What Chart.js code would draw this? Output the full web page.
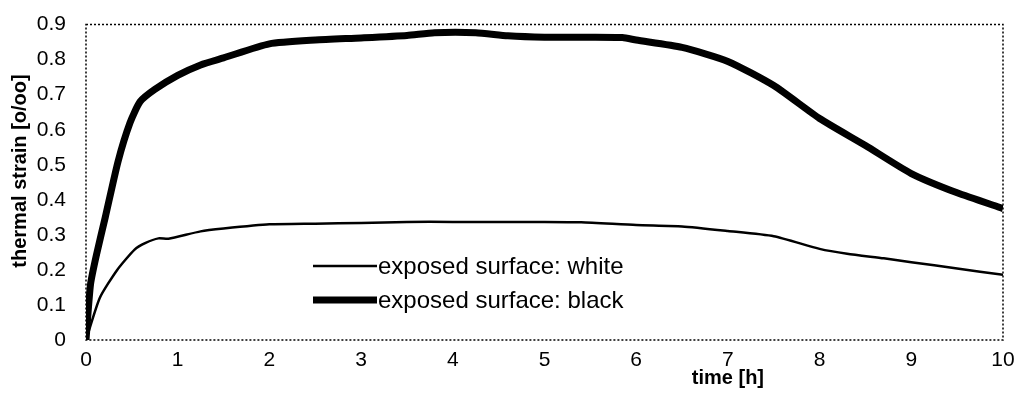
<!DOCTYPE html>
<html>
<head>
<meta charset="utf-8">
<script src="https://cdn.jsdelivr.net/npm/chart.js@4"></script>
<style>
  html, body { margin: 0; padding: 0; background: #fff; }
  #wrap { width: 1024px; height: 400px; }
</style>
</head>
<body>
<div id="wrap"><canvas id="chart1" width="1024" height="400"></canvas></div>
<script>
var FONT = '"Liberation Sans", Arial, Helvetica, sans-serif';

// time [h] and thermal strain [o/oo]
var timeWhite = [0, 0.15, 0.34, 0.53, 0.65, 0.79, 0.9, 1.25, 1.5, 2.0, 2.5, 3.0, 3.5, 4.0, 5.0, 5.4, 6.0, 6.5, 7.0, 7.5, 8.0, 8.3, 8.7, 9.0, 9.5, 10];
var strainWhite = [0, 0.12, 0.2, 0.258, 0.277, 0.29, 0.289, 0.31, 0.318, 0.33, 0.332, 0.334, 0.337, 0.337, 0.337, 0.336, 0.328, 0.324, 0.311, 0.296, 0.26, 0.246, 0.233, 0.222, 0.204, 0.186];

var timeBlack = [0, 0.05, 0.12, 0.21, 0.35, 0.48, 0.59, 0.75, 1.0, 1.25, 1.5, 2.0, 2.5, 3.0, 3.5, 3.8, 4.25, 4.6, 5.0, 5.5, 5.85, 6.0, 6.5, 7.0, 7.5, 8.0, 8.5, 9.0, 9.5, 10];
var strainBlack = [0, 0.16, 0.25, 0.35, 0.51, 0.62, 0.68, 0.715, 0.755, 0.785, 0.805, 0.845, 0.856, 0.862, 0.869, 0.877, 0.877, 0.868, 0.864, 0.864, 0.863, 0.856, 0.835, 0.795, 0.726, 0.632, 0.555, 0.475, 0.42, 0.375];

var seriesLabels = ['exposed surface: white', 'exposed surface: black'];
var xTitle = 'time [h]';
var yTitle = 'thermal strain [o/oo]';

function toPoints(xs, ys) {
    var pts = [];
    for (var i = 0; i < xs.length; i++) {
        pts.push({ x: xs[i], y: ys[i] });
    }
    return pts;
}

// dotted frame, axis titles and the in-plot legend
var decorPlugin = {
    id: 'decor',
    beforeDatasetsDraw: function (chart) {
        var a = chart.chartArea;
        var ctx = chart.ctx;
        ctx.save();
        ctx.strokeStyle = '#000';
        ctx.lineWidth = 1.5;
        ctx.setLineDash([2, 2]);
        ctx.strokeRect(a.left, a.top, a.right - a.left, a.bottom - a.top);
        ctx.restore();
    },
    afterDraw: function (chart) {
        var ctx = chart.ctx;
        var xs = chart.scales.x;
        ctx.save();
        ctx.fillStyle = '#000';
        ctx.font = 'bold 20px ' + FONT;
        ctx.textAlign = 'center';
        ctx.textBaseline = 'middle';
        ctx.fillText(xTitle, xs.getPixelForValue(7), 378);

        ctx.translate(20, 171);
        ctx.rotate(-Math.PI / 2);
        ctx.fillText(yTitle, 0, 0);
        ctx.restore();

        // legend
        var ds = chart.data.datasets;
        var rows = [266, 300];
        ctx.save();
        ctx.font = '24px ' + FONT;
        ctx.textAlign = 'left';
        ctx.textBaseline = 'middle';
        for (var i = 0; i < ds.length; i++) {
            ctx.beginPath();
            ctx.strokeStyle = '#000';
            ctx.lineWidth = ds[i].borderWidth;
            ctx.moveTo(313, rows[i]);
            ctx.lineTo(377, rows[i]);
            ctx.stroke();
            ctx.fillStyle = '#000';
            ctx.fillText(ds[i].label, 378, rows[i] + 1);
        }
        ctx.restore();
    }
};

var chartData = {
    datasets: [{
        label: seriesLabels[0],
        data: toPoints(timeWhite, strainWhite),
        borderColor: '#000',
        borderWidth: 2.5,
    }, {
        label: seriesLabels[1],
        data: toPoints(timeBlack, strainBlack),
        borderColor: '#000',
        borderWidth: 7,
    }]
};

var chartOptions = {
    responsive: false,
    maintainAspectRatio: false,
    animation: false,
    layout: {
        padding: { top: 15, right: 21, left: 0, bottom: 0 }
    },
    elements: {
        point: { radius: 0 },
        line: { tension: 0.2, borderJoinStyle: 'round', borderCapStyle: 'butt' }
    },
    plugins: {
        legend: { display: false },
        tooltip: { enabled: false },
    },
    scales: {
        x: {
            type: 'linear',
            min: 0,
            max: 10,
            grid: { display: false },
            border: { display: false },
            ticks: {
                stepSize: 1,
                color: '#000',
                padding: 0,
                font: { family: FONT, size: 21 },
            },
            afterFit: function (scale) { scale.height = 60; }
        },
        y: {
            min: 0,
            max: 0.9,
            grid: { display: false },
            border: { display: false },
            ticks: {
                stepSize: 0.1,
                color: '#000',
                padding: 12,
                font: { family: FONT, size: 21 },
                callback: function (v) { return Math.round(v * 10) / 10; }
            },
            afterFit: function (scale) { scale.width = 86; }
        }
    }
};

var ctx = document.getElementById('chart1').getContext('2d');
var myChart = new Chart(ctx, {
    type: 'line',
    data: chartData,
    options: chartOptions,
    plugins: [decorPlugin]
});
</script>
</body>
</html>
